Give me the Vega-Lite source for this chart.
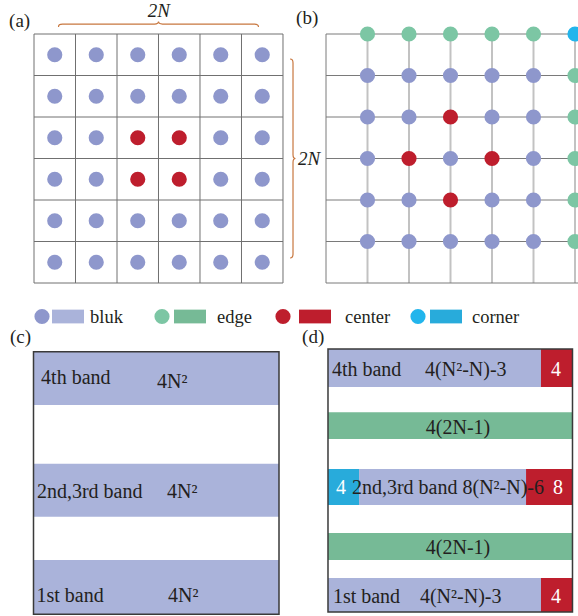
{
  "$schema": "https://vega.github.io/schema/vega-lite/v6.json",
  "background": "white",
  "padding": 0,
  "spacing": 0,
  "config": {
    "view": {"stroke": null},
    "axis": {"disable": true},
    "font": "Liberation Serif",
    "text": {"font": "Liberation Serif", "color": "#231f20"},
    "concat": {"spacing": 0}
  },
  "datasets": {
    "aLines": [{"k": 0.5}, {"k": 1.5}, {"k": 2.5}, {"k": 3.5}, {"k": 4.5}, {"k": 5.5}, {"k": 6.5}],
    "aDots": [
      {"c": 1, "r": 1, "t": "bulk"}, {"c": 2, "r": 1, "t": "bulk"}, {"c": 3, "r": 1, "t": "bulk"}, {"c": 4, "r": 1, "t": "bulk"}, {"c": 5, "r": 1, "t": "bulk"}, {"c": 6, "r": 1, "t": "bulk"},
      {"c": 1, "r": 2, "t": "bulk"}, {"c": 2, "r": 2, "t": "bulk"}, {"c": 3, "r": 2, "t": "bulk"}, {"c": 4, "r": 2, "t": "bulk"}, {"c": 5, "r": 2, "t": "bulk"}, {"c": 6, "r": 2, "t": "bulk"},
      {"c": 1, "r": 3, "t": "bulk"}, {"c": 2, "r": 3, "t": "bulk"}, {"c": 3, "r": 3, "t": "center"}, {"c": 4, "r": 3, "t": "center"}, {"c": 5, "r": 3, "t": "bulk"}, {"c": 6, "r": 3, "t": "bulk"},
      {"c": 1, "r": 4, "t": "bulk"}, {"c": 2, "r": 4, "t": "bulk"}, {"c": 3, "r": 4, "t": "center"}, {"c": 4, "r": 4, "t": "center"}, {"c": 5, "r": 4, "t": "bulk"}, {"c": 6, "r": 4, "t": "bulk"},
      {"c": 1, "r": 5, "t": "bulk"}, {"c": 2, "r": 5, "t": "bulk"}, {"c": 3, "r": 5, "t": "bulk"}, {"c": 4, "r": 5, "t": "bulk"}, {"c": 5, "r": 5, "t": "bulk"}, {"c": 6, "r": 5, "t": "bulk"},
      {"c": 1, "r": 6, "t": "bulk"}, {"c": 2, "r": 6, "t": "bulk"}, {"c": 3, "r": 6, "t": "bulk"}, {"c": 4, "r": 6, "t": "bulk"}, {"c": 5, "r": 6, "t": "bulk"}, {"c": 6, "r": 6, "t": "bulk"}
    ],
    "bHLines": [{"k": 0}, {"k": 1}, {"k": 2}, {"k": 3}, {"k": 4}, {"k": 5}, {"k": 6}],
    "bVInner": [{"k": 1}, {"k": 2}, {"k": 3}, {"k": 4}, {"k": 5}, {"k": 6}],
    "bDots": [
      {"u": 1, "v": 0, "t": "edge"}, {"u": 2, "v": 0, "t": "edge"}, {"u": 3, "v": 0, "t": "edge"}, {"u": 4, "v": 0, "t": "edge"}, {"u": 5, "v": 0, "t": "edge"}, {"u": 6, "v": 0, "t": "corner"},
      {"u": 1, "v": 1, "t": "bulk"}, {"u": 2, "v": 1, "t": "bulk"}, {"u": 3, "v": 1, "t": "bulk"}, {"u": 4, "v": 1, "t": "bulk"}, {"u": 5, "v": 1, "t": "bulk"}, {"u": 6, "v": 1, "t": "edge"},
      {"u": 1, "v": 2, "t": "bulk"}, {"u": 2, "v": 2, "t": "bulk"}, {"u": 3, "v": 2, "t": "center"}, {"u": 4, "v": 2, "t": "bulk"}, {"u": 5, "v": 2, "t": "bulk"}, {"u": 6, "v": 2, "t": "edge"},
      {"u": 1, "v": 3, "t": "bulk"}, {"u": 2, "v": 3, "t": "center"}, {"u": 3, "v": 3, "t": "bulk"}, {"u": 4, "v": 3, "t": "center"}, {"u": 5, "v": 3, "t": "bulk"}, {"u": 6, "v": 3, "t": "edge"},
      {"u": 1, "v": 4, "t": "bulk"}, {"u": 2, "v": 4, "t": "bulk"}, {"u": 3, "v": 4, "t": "center"}, {"u": 4, "v": 4, "t": "bulk"}, {"u": 5, "v": 4, "t": "bulk"}, {"u": 6, "v": 4, "t": "edge"},
      {"u": 1, "v": 5, "t": "bulk"}, {"u": 2, "v": 5, "t": "bulk"}, {"u": 3, "v": 5, "t": "bulk"}, {"u": 4, "v": 5, "t": "bulk"}, {"u": 5, "v": 5, "t": "bulk"}, {"u": 6, "v": 5, "t": "edge"}
    ],
    "legendItems": [
      {"i": 0, "t": "bulk", "name": "bluk"},
      {"i": 1, "t": "edge", "name": "edge"},
      {"i": 2, "t": "center", "name": "center"},
      {"i": 3, "t": "corner", "name": "corner"}
    ],
    "cBands": [
      {"band": "4th band", "lo": 7.97, "hi": 10, "t": "bulk"},
      {"band": "2nd,3rd band", "lo": 3.71, "hi": 5.73, "t": "bulk"},
      {"band": "1st band", "lo": 0, "hi": 2.07, "t": "bulk"}
    ],
    "cTexts": [
      {"label": "4th band", "tx": 0.31, "ty": 8.77},
      {"label": "4N²", "tx": 5.03, "ty": 8.62},
      {"label": "2nd,3rd band", "tx": 0.14, "ty": 4.43},
      {"label": "4N²", "tx": 5.44, "ty": 4.43},
      {"label": "1st band", "tx": 0.12, "ty": 0.47},
      {"label": "4N²", "tx": 5.48, "ty": 0.47}
    ],
    "dSegs": [
      {"band": "4th band", "lo": 8.56, "hi": 10, "x0": 0, "x1": 8.71, "t": "bulk"},
      {"band": "4th band", "lo": 8.56, "hi": 10, "x0": 8.71, "x1": 10, "t": "center"},
      {"band": "edge upper", "lo": 6.58, "hi": 7.6, "x0": 0, "x1": 10, "t": "edge"},
      {"band": "2nd,3rd band", "lo": 4.07, "hi": 5.44, "x0": 0, "x1": 1.27, "t": "corner"},
      {"band": "2nd,3rd band", "lo": 4.07, "hi": 5.44, "x0": 1.27, "x1": 8.1, "t": "bulk"},
      {"band": "2nd,3rd band", "lo": 4.07, "hi": 5.44, "x0": 8.1, "x1": 10, "t": "center"},
      {"band": "edge lower", "lo": 1.98, "hi": 3.0, "x0": 0, "x1": 10, "t": "edge"},
      {"band": "1st band", "lo": 0, "hi": 1.29, "x0": 0, "x1": 8.71, "t": "bulk"},
      {"band": "1st band", "lo": 0, "hi": 1.29, "x0": 8.71, "x1": 10, "t": "center"}
    ],
    "dTextsLeft": [
      {"label": "4th band", "tx": 0.16, "ty": 8.97},
      {"label": "4(N²-N)-3", "tx": 3.97, "ty": 8.97},
      {"label": "2nd,3rd band 8(N²-N)-6", "tx": 0.98, "ty": 4.49},
      {"label": "1st band", "tx": 0.2, "ty": 0.36},
      {"label": "4(N²-N)-3", "tx": 3.76, "ty": 0.36}
    ],
    "dTextsCenter": [
      {"label": "4(2N-1)", "tx": 5.32, "ty": 6.77},
      {"label": "4(2N-1)", "tx": 5.32, "ty": 2.21}
    ],
    "dTextsWhite": [
      {"label": "4", "tx": 9.33, "ty": 8.97},
      {"label": "4", "tx": 0.53, "ty": 4.49},
      {"label": "8", "tx": 9.41, "ty": 4.49},
      {"label": "4", "tx": 9.33, "ty": 0.36}
    ]
  },
  "vconcat": [
    {
      "spacing": 0,
      "bounds": "flush",
      "hconcat": [
        {
          "width": 290,
          "height": 300,
          "layer": [
            {
              "data": {"name": "aLines"},
              "mark": {"type": "rule", "color": "#707070", "strokeWidth": 1},
              "encoding": {
                "x": {"field": "k", "type": "quantitative", "scale": {"domain": [-0.3193, 6.6687], "nice": false, "zero": false}},
                "y": {"datum": 0.5, "type": "quantitative", "scale": {"domain": [-0.3193, 6.9096], "nice": false, "zero": false, "reverse": true}},
                "y2": {"datum": 6.5}
              }
            },
            {
              "data": {"name": "aLines"},
              "mark": {"type": "rule", "color": "#707070", "strokeWidth": 1},
              "encoding": {
                "y": {"field": "k", "type": "quantitative", "scale": {"domain": [-0.3193, 6.9096], "nice": false, "zero": false, "reverse": true}},
                "x": {"datum": 0.5, "type": "quantitative", "scale": {"domain": [-0.3193, 6.6687], "nice": false, "zero": false}},
                "x2": {"datum": 6.5}
              }
            },
            {
              "data": {"name": "aDots"},
              "mark": {"type": "point", "filled": true, "opacity": 1, "size": 230, "strokeWidth": 0},
              "encoding": {
                "x": {"field": "c", "type": "quantitative", "scale": {"domain": [-0.3193, 6.6687], "nice": false, "zero": false}},
                "y": {"field": "r", "type": "quantitative", "scale": {"domain": [-0.3193, 6.9096], "nice": false, "zero": false, "reverse": true}},
                "color": {"field": "t", "type": "nominal", "legend": null, "scale": {"domain": ["bulk", "edge", "center", "corner"], "range": ["#8e97cc", "#7cc6a4", "#be1e2d", "#22b5ec"]}}
              }
            },
            {
              "data": {"values": [{"bx": 3.5, "by": 0.26}]},
              "mark": {"type": "point", "shape": "M -1 0.03 C -1 0.01 -0.99 0 -0.96 0 L -0.04 0 C -0.01 0 0 -0.01 0 -0.025 C 0 -0.01 0.01 0 0.04 0 L 0.96 0 C 0.99 0 1 0.01 1 0.03", "size": 40000, "filled": false, "color": "#c8773f", "strokeWidth": 1.2, "opacity": 1},
              "encoding": {
                "x": {"field": "bx", "type": "quantitative", "scale": {"domain": [-0.3193, 6.6687], "nice": false, "zero": false}},
                "y": {"field": "by", "type": "quantitative", "scale": {"domain": [-0.3193, 6.9096], "nice": false, "zero": false, "reverse": true}}
              }
            },
            {
              "data": {"values": [{"label": "2N", "tx": 3.51, "ty": 0.09}]},
              "mark": {"type": "text", "fontStyle": "italic", "fontSize": 19, "align": "center", "baseline": "alphabetic"},
              "encoding": {
                "x": {"field": "tx", "type": "quantitative", "scale": {"domain": [-0.3193, 6.6687], "nice": false, "zero": false}},
                "y": {"field": "ty", "type": "quantitative", "scale": {"domain": [-0.3193, 6.9096], "nice": false, "zero": false, "reverse": true}},
                "text": {"field": "label"}
              }
            },
            {
              "data": {"values": [{"label": "(a)", "tx": -0.1, "ty": 0.33}]},
              "mark": {"type": "text", "fontSize": 19, "align": "left", "baseline": "alphabetic"},
              "encoding": {
                "x": {"field": "tx", "type": "quantitative", "scale": {"domain": [-0.3193, 6.6687], "nice": false, "zero": false}},
                "y": {"field": "ty", "type": "quantitative", "scale": {"domain": [-0.3193, 6.9096], "nice": false, "zero": false, "reverse": true}},
                "text": {"field": "label"}
              }
            }
          ]
        },
        {
          "width": 288,
          "height": 300,
          "layer": [
            {
              "data": {"name": "bVInner"},
              "mark": {"type": "rule", "color": "#c2c2c2", "strokeWidth": 2, "clip": true},
              "encoding": {
                "x": {"field": "k", "type": "quantitative", "scale": {"domain": [-0.8675, 6.0723], "nice": false, "zero": false}},
                "y": {"datum": 0, "type": "quantitative", "scale": {"domain": [-0.8193, 6.4096], "nice": false, "zero": false, "reverse": true}},
                "y2": {"datum": 6}
              }
            },
            {
              "data": {"name": "bHLines"},
              "mark": {"type": "rule", "color": "#7a7a7a", "strokeWidth": 1, "clip": true},
              "encoding": {
                "y": {"field": "k", "type": "quantitative", "scale": {"domain": [-0.8193, 6.4096], "nice": false, "zero": false, "reverse": true}},
                "x": {"datum": 0, "type": "quantitative", "scale": {"domain": [-0.8675, 6.0723], "nice": false, "zero": false}},
                "x2": {"datum": 6.5}
              }
            },
            {
              "data": {"values": [{"k": 0}]},
              "mark": {"type": "rule", "color": "#7a7a7a", "strokeWidth": 1, "clip": true},
              "encoding": {
                "x": {"field": "k", "type": "quantitative", "scale": {"domain": [-0.8675, 6.0723], "nice": false, "zero": false}},
                "y": {"datum": 0, "type": "quantitative", "scale": {"domain": [-0.8193, 6.4096], "nice": false, "zero": false, "reverse": true}},
                "y2": {"datum": 6}
              }
            },
            {
              "data": {"name": "bDots"},
              "mark": {"type": "point", "filled": true, "opacity": 1, "size": 230, "strokeWidth": 0, "clip": true},
              "encoding": {
                "x": {"field": "u", "type": "quantitative", "scale": {"domain": [-0.8675, 6.0723], "nice": false, "zero": false}},
                "y": {"field": "v", "type": "quantitative", "scale": {"domain": [-0.8193, 6.4096], "nice": false, "zero": false, "reverse": true}},
                "color": {"field": "t", "type": "nominal", "legend": null, "scale": {"domain": ["bulk", "edge", "center", "corner"], "range": ["#8e97cc", "#7cc6a4", "#be1e2d", "#22b5ec"]}}
              }
            },
            {
              "data": {"values": [{"bx": -0.795, "by": 3.0}]},
              "mark": {"type": "point", "shape": "M -0.03 -1 C -0.01 -1 0 -0.99 0 -0.96 L 0 -0.04 C 0 -0.01 0.01 0 0.025 0 C 0.01 0 0 0.01 0 0.04 L 0 0.96 C 0 0.99 -0.01 1 -0.03 1", "size": 39600, "filled": false, "color": "#c8773f", "strokeWidth": 1.2, "opacity": 1, "clip": true},
              "encoding": {
                "x": {"field": "bx", "type": "quantitative", "scale": {"domain": [-0.8675, 6.0723], "nice": false, "zero": false}},
                "y": {"field": "by", "type": "quantitative", "scale": {"domain": [-0.8193, 6.4096], "nice": false, "zero": false, "reverse": true}}
              }
            },
            {
              "data": {"values": [{"label": "2N", "tx": -0.675, "ty": 3.157}]},
              "mark": {"type": "text", "fontStyle": "italic", "fontSize": 19, "align": "left", "baseline": "alphabetic", "clip": true},
              "encoding": {
                "x": {"field": "tx", "type": "quantitative", "scale": {"domain": [-0.8675, 6.0723], "nice": false, "zero": false}},
                "y": {"field": "ty", "type": "quantitative", "scale": {"domain": [-0.8193, 6.4096], "nice": false, "zero": false, "reverse": true}},
                "text": {"field": "label"}
              }
            },
            {
              "data": {"values": [{"label": "(b)", "tx": -0.72, "ty": -0.24}]},
              "mark": {"type": "text", "fontSize": 19, "align": "left", "baseline": "alphabetic", "clip": true},
              "encoding": {
                "x": {"field": "tx", "type": "quantitative", "scale": {"domain": [-0.8675, 6.0723], "nice": false, "zero": false}},
                "y": {"field": "ty", "type": "quantitative", "scale": {"domain": [-0.8193, 6.4096], "nice": false, "zero": false, "reverse": true}},
                "text": {"field": "label"}
              }
            }
          ]
        }
      ]
    },
    {
      "width": 578,
      "height": 26,
      "data": {"name": "legendItems"},
      "resolve": {"scale": {"x": "independent"}},
      "layer": [
        {
          "mark": {"type": "point", "filled": true, "opacity": 1, "size": 230, "strokeWidth": 0},
          "encoding": {
            "x": {"field": "i", "type": "quantitative", "scale": {"domain": [0, 1, 2, 3], "range": [42, 162, 283, 418], "nice": false, "zero": false}},
            "y": {"datum": 0, "type": "quantitative", "scale": {"domain": [-0.365, 0.635], "nice": false, "zero": false}},
            "color": {"field": "t", "type": "nominal", "legend": null, "scale": {"domain": ["bulk", "edge", "center", "corner"], "range": ["#8e97cc", "#7cc6a4", "#be1e2d", "#22b5ec"]}}
          }
        },
        {
          "mark": {"type": "point", "shape": "M -1 -0.43 L 1 -0.43 L 1 0.43 L -1 0.43 Z", "filled": true, "opacity": 1, "size": 1024, "strokeWidth": 0},
          "encoding": {
            "x": {"field": "i", "type": "quantitative", "scale": {"domain": [0, 1, 2, 3], "range": [68, 190, 315, 446], "nice": false, "zero": false}},
            "y": {"datum": 0, "type": "quantitative", "scale": {"domain": [-0.365, 0.635], "nice": false, "zero": false}},
            "fill": {"field": "t", "type": "nominal", "legend": null, "scale": {"domain": ["bulk", "edge", "center", "corner"], "range": ["#aab3da", "#76ba96", "#be1e2d", "#28abdb"]}}
          }
        },
        {
          "mark": {"type": "text", "fontSize": 18.5, "align": "left", "baseline": "middle"},
          "encoding": {
            "x": {"field": "i", "type": "quantitative", "scale": {"domain": [0, 1, 2, 3], "range": [90, 217, 345, 472], "nice": false, "zero": false}},
            "y": {"datum": 0, "type": "quantitative", "scale": {"domain": [-0.365, 0.635], "nice": false, "zero": false}},
            "text": {"field": "name"}
          }
        }
      ]
    },
    {
      "spacing": 0,
      "bounds": "flush",
      "hconcat": [
        {
          "width": 290,
          "height": 290,
          "layer": [
            {
              "data": {"name": "cBands"},
              "mark": {"type": "rect"},
              "encoding": {
                "x": {"datum": 0, "type": "quantitative", "scale": {"domain": [-1.3646, 10.448], "nice": false, "zero": false}},
                "x2": {"datum": 10},
                "y": {"field": "lo", "type": "quantitative", "scale": {"domain": [-0.103, 10.94], "nice": false, "zero": false}},
                "y2": {"field": "hi"},
                "fill": {"field": "t", "type": "nominal", "legend": null, "scale": {"domain": ["bulk", "edge", "center", "corner"], "range": ["#aab3da", "#76ba96", "#be1e2d", "#28abdb"]}}
              }
            },
            {
              "data": {"values": [{}]},
              "mark": {"type": "rect", "filled": false, "color": "#3a3a3a", "strokeWidth": 1.5},
              "encoding": {
                "x": {"datum": 0, "type": "quantitative", "scale": {"domain": [-1.3646, 10.448], "nice": false, "zero": false}},
                "x2": {"datum": 10},
                "y": {"datum": 0, "type": "quantitative", "scale": {"domain": [-0.103, 10.94], "nice": false, "zero": false}},
                "y2": {"datum": 10}
              }
            },
            {
              "data": {"name": "cTexts"},
              "mark": {"type": "text", "fontSize": 20, "align": "left", "baseline": "alphabetic"},
              "encoding": {
                "x": {"field": "tx", "type": "quantitative", "scale": {"domain": [-1.3646, 10.448], "nice": false, "zero": false}},
                "y": {"field": "ty", "type": "quantitative", "scale": {"domain": [-0.103, 10.94], "nice": false, "zero": false}},
                "text": {"field": "label"}
              }
            },
            {
              "data": {"values": [{"label": "(c)", "tx": -0.96, "ty": 10.33}]},
              "mark": {"type": "text", "fontSize": 19, "align": "left", "baseline": "alphabetic"},
              "encoding": {
                "x": {"field": "tx", "type": "quantitative", "scale": {"domain": [-1.3646, 10.448], "nice": false, "zero": false}},
                "y": {"field": "ty", "type": "quantitative", "scale": {"domain": [-0.103, 10.94], "nice": false, "zero": false}},
                "text": {"field": "label"}
              }
            }
          ]
        },
        {
          "width": 288,
          "height": 290,
          "layer": [
            {
              "data": {"name": "dSegs"},
              "mark": {"type": "rect"},
              "encoding": {
                "x": {"field": "x0", "type": "quantitative", "scale": {"domain": [-1.554, 10.225], "nice": false, "zero": false}},
                "x2": {"field": "x1"},
                "y": {"field": "lo", "type": "quantitative", "scale": {"domain": [-0.19, 10.837], "nice": false, "zero": false}},
                "y2": {"field": "hi"},
                "fill": {"field": "t", "type": "nominal", "legend": null, "scale": {"domain": ["bulk", "edge", "center", "corner"], "range": ["#aab3da", "#76ba96", "#be1e2d", "#28abdb"]}}
              }
            },
            {
              "data": {"values": [{}]},
              "mark": {"type": "rect", "filled": false, "color": "#3a3a3a", "strokeWidth": 1.5},
              "encoding": {
                "x": {"datum": 0, "type": "quantitative", "scale": {"domain": [-1.554, 10.225], "nice": false, "zero": false}},
                "x2": {"datum": 10},
                "y": {"datum": 0, "type": "quantitative", "scale": {"domain": [-0.19, 10.837], "nice": false, "zero": false}},
                "y2": {"datum": 10}
              }
            },
            {
              "data": {"name": "dTextsLeft"},
              "mark": {"type": "text", "fontSize": 20, "align": "left", "baseline": "alphabetic"},
              "encoding": {
                "x": {"field": "tx", "type": "quantitative", "scale": {"domain": [-1.554, 10.225], "nice": false, "zero": false}},
                "y": {"field": "ty", "type": "quantitative", "scale": {"domain": [-0.19, 10.837], "nice": false, "zero": false}},
                "text": {"field": "label"}
              }
            },
            {
              "data": {"name": "dTextsCenter"},
              "mark": {"type": "text", "fontSize": 20, "align": "center", "baseline": "alphabetic"},
              "encoding": {
                "x": {"field": "tx", "type": "quantitative", "scale": {"domain": [-1.554, 10.225], "nice": false, "zero": false}},
                "y": {"field": "ty", "type": "quantitative", "scale": {"domain": [-0.19, 10.837], "nice": false, "zero": false}},
                "text": {"field": "label"}
              }
            },
            {
              "data": {"name": "dTextsWhite"},
              "mark": {"type": "text", "fontSize": 20, "align": "center", "baseline": "alphabetic", "color": "white"},
              "encoding": {
                "x": {"field": "tx", "type": "quantitative", "scale": {"domain": [-1.554, 10.225], "nice": false, "zero": false}},
                "y": {"field": "ty", "type": "quantitative", "scale": {"domain": [-0.19, 10.837], "nice": false, "zero": false}},
                "text": {"field": "label"}
              }
            },
            {
              "data": {"values": [{"label": "(d)", "tx": -1.06, "ty": 10.23}]},
              "mark": {"type": "text", "fontSize": 19, "align": "left", "baseline": "alphabetic"},
              "encoding": {
                "x": {"field": "tx", "type": "quantitative", "scale": {"domain": [-1.554, 10.225], "nice": false, "zero": false}},
                "y": {"field": "ty", "type": "quantitative", "scale": {"domain": [-0.19, 10.837], "nice": false, "zero": false}},
                "text": {"field": "label"}
              }
            }
          ]
        }
      ]
    }
  ]
}
